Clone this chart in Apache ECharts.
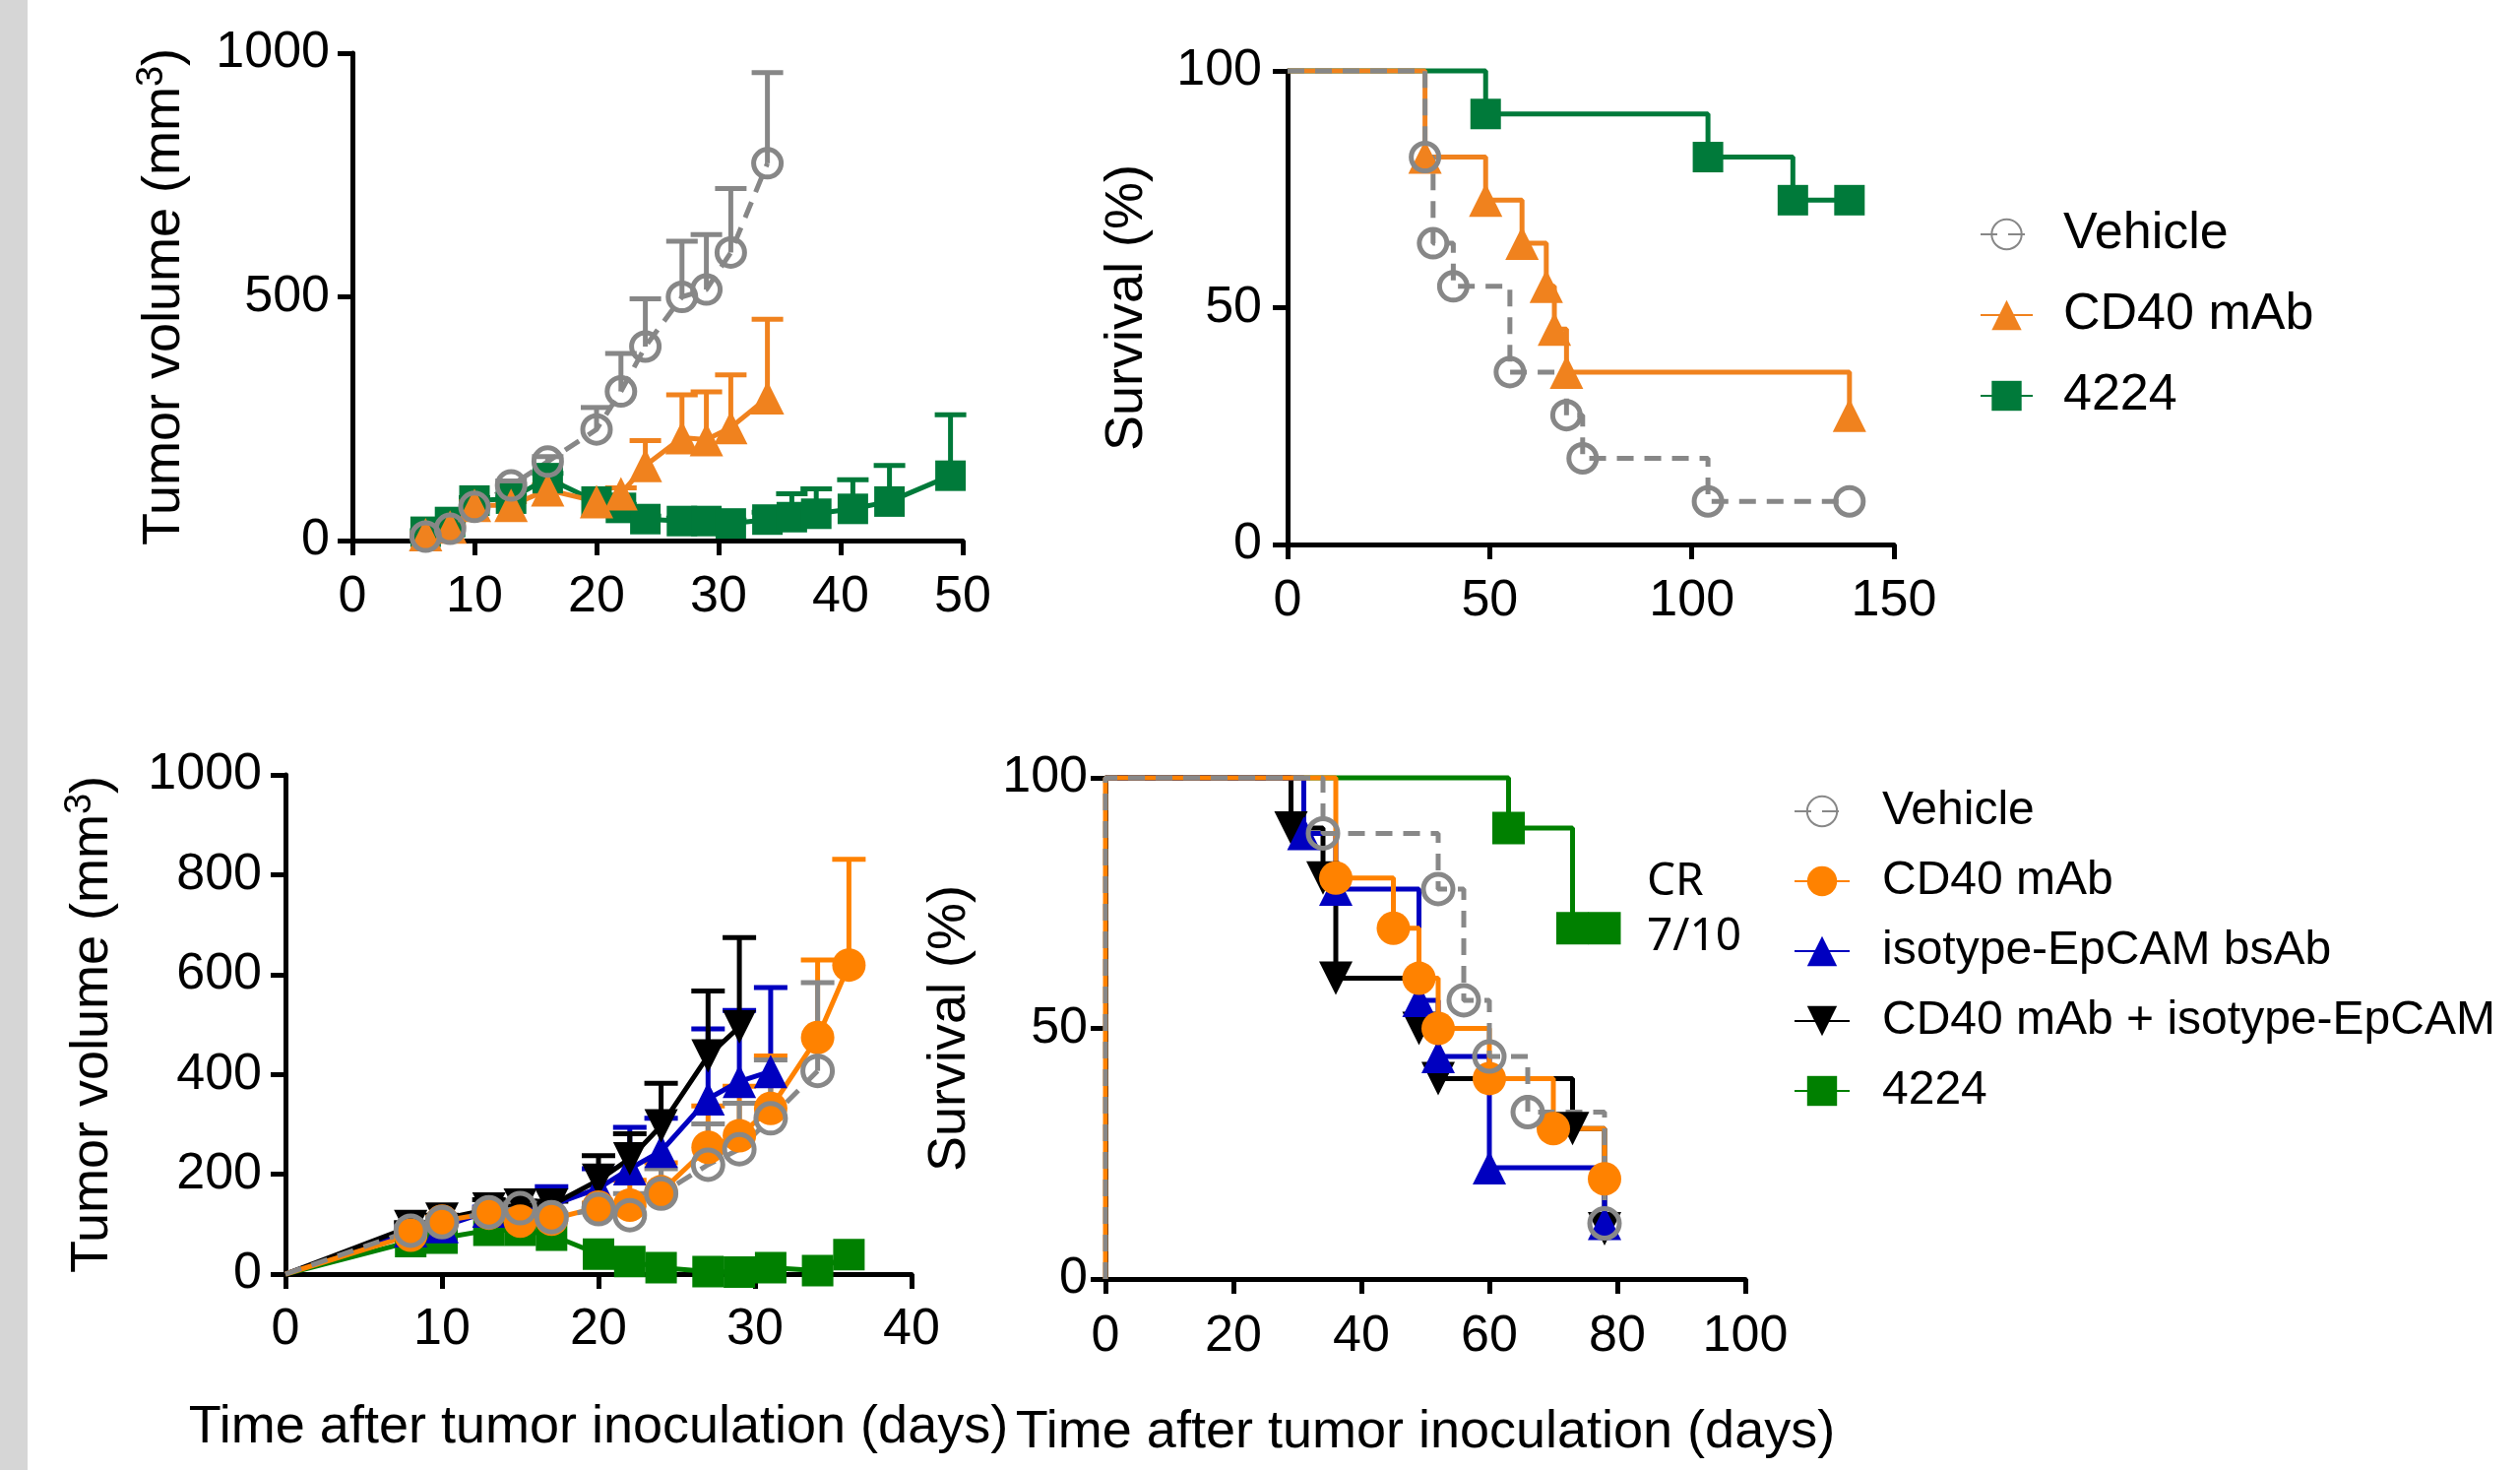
<!DOCTYPE html>
<html><head><meta charset="utf-8">
<script src="https://cdn.jsdelivr.net/npm/echarts@6/dist/echarts.min.js"></script>
<style>html,body{margin:0;padding:0;background:#fff}#c{width:2560px;height:1493px}</style>
</head><body><div id="c"></div>
<script>
// ---------------- DATA ----------------
// Top-left: tumor volume (mm3) vs days
const tlVehicleDays  = [6, 8, 10, 13, 16, 20, 22, 24, 27, 29, 31, 34];
const tlVehicleMean  = [8, 24, 69, 113, 162, 228, 306, 398, 500, 515, 591, 774];
const tlVehicleUpper = [12, 30, 76, 122, 172, 273, 384, 496, 614, 628, 722, 960];
const tlCD40Days  = [6, 8, 10, 13, 16, 20, 22, 24, 27, 29, 31, 34];
const tlCD40Mean  = [12, 28, 72, 72, 104, 80, 96, 154, 211, 207, 232, 293];
const tlCD40Upper = [14, 32, 80, 80, 114, 90, 108, 205, 299, 305, 340, 454];
const tl4224Days  = [6, 8, 10, 13, 16, 20, 22, 24, 27, 29, 31, 34, 36, 38, 41, 44, 49];
const tl4224Mean  = [18, 38, 82, 86, 128, 80, 67, 44, 40, 40, 35, 43, 48, 55, 65, 80, 133];
const tl4224Upper = [20, 42, 88, 92, 138, 88, 74, 50, 46, 46, 42, 58, 96, 106, 125, 154, 258];

// Top-right: survival (%)
const trVehicleDays = [0, 34, 36, 41, 55, 69, 73, 104, 139];
const trVehicleSurv = [100, 81.8, 63.6, 54.5, 36.4, 27.3, 18.2, 9.1, 9.1];
const trCD40Days = [0, 34, 49, 58, 64, 66, 69, 139];
const trCD40Surv = [100, 81.8, 72.7, 63.6, 54.5, 45.5, 36.4, 27.3];
const tr4224Days = [0, 49, 104, 125, 139];
const tr4224Surv = [100, 90.9, 81.8, 72.7, 72.7];

// Bottom-left: tumor volume (mm3) vs days
const blVehicleDays  = [0, 8, 10, 13, 15, 17, 20, 22, 24, 27, 29, 31, 34];
const blVehicleMean  = [0, 87, 104, 124, 132, 114, 130, 118, 161, 219, 250, 312, 407];
const blVehicleUpper = [0, 95, 112, 132, 142, 122, 140, 161, 211, 301, 342, 429, 584];
const blCD40Days  = [0, 8, 10, 13, 15, 17, 20, 22, 24, 27, 29, 31, 34, 36];
const blCD40Mean  = [0, 78, 106, 122, 106, 110, 134, 138, 165, 254, 277, 332, 474, 619];
const blCD40Upper = [0, 86, 114, 130, 114, 118, 142, 188, 223, 337, 376, 437, 629, 831];
const blIsoDays  = [0, 8, 10, 13, 15, 17, 20, 22, 24, 27, 29, 31];
const blIsoMean  = [0, 87, 95, 126, 130, 138, 172, 211, 246, 351, 386, 406];
const blIsoUpper = [0, 95, 103, 134, 138, 175, 211, 294, 312, 491, 528, 574];
const blComboDays  = [0, 8, 10, 13, 15, 17, 20, 22, 24, 27, 29];
const blComboMean  = [0, 95, 110, 130, 138, 138, 188, 231, 297, 437, 495];
const blComboUpper = [0, 103, 118, 149, 146, 146, 237, 281, 382, 567, 674];
const bl4224Days = [0, 8, 10, 13, 15, 17, 20, 22, 24, 27, 29, 31, 34, 36];
const bl4224Mean = [0, 65, 72, 88, 88, 78, 40, 25, 13, 5, 4, 13, 7, 39];

// Bottom-right: survival (%)
const brVehicleDays = [0, 0, 34, 52, 56, 60, 66, 78];
const brVehicleSurv = [0, 100, 88.9, 77.8, 55.6, 44.4, 33.3, 11.1];
const brCD40Days = [0, 0, 36, 45, 49, 52, 60, 70, 78];
const brCD40Surv = [0, 100, 80, 70, 60, 50, 40, 30, 20];
const brIsoDays = [0, 31, 36, 49, 52, 60, 78];
const brIsoSurv = [100, 88.9, 77.8, 55.6, 44.4, 22.2, 11.1];
const brComboDays = [0, 29, 34, 36, 49, 52, 73, 78];
const brComboSurv = [100, 90, 80, 60, 50, 40, 30, 10];
const br4224Days = [0, 63, 73, 78];
const br4224Surv = [100, 90, 70, 70];

// Labels
const topLegendNames = ['Vehicle', 'CD40 mAb', '4224'];
const bottomLegendNames = ['Vehicle', 'CD40 mAb', 'isotype-EpCAM bsAb', 'CD40 mAb + isotype-EpCAM', '4224'];
const volumeTitle = 'Tumor volume (mm{sup|3})';
const survivalTitle = 'Survival (%)';
const timeTitle = 'Time after tumor inoculation (days)';
const crLines = ['CR', '7/10'];

// ---------------- STYLE ----------------
const FONT = '"Liberation Sans", Arial, sans-serif';
const C = {
  tGray: '#878787', tOrange: '#F0821E', tGreen: '#007A3A',
  bGray: '#888888', bOrange: '#FF8200', bBlue: '#0000C0', bBlack: '#000000', bGreen: '#008000'
};
const LW = 5;

function pts(xs, ys, hideZero) {
  return xs.map((x, i) => {
    const item = { value: [x, ys[i]] };
    if (hideZero && x === 0) item.symbol = 'none';
    return item;
  });
}
function errData(xs, m, u) {
  const out = [];
  xs.forEach((x, i) => { if (u[i] > m[i]) out.push([x, m[i], u[i]]); });
  return out;
}
function errSeries(idx, xs, m, u, color, hw) {
  return {
    type: 'custom', name: 'err' + color + idx, xAxisIndex: idx, yAxisIndex: idx, z: 1, clip: false,
    silent: true, encode: { x: 0, y: [1, 2] },
    data: errData(xs, m, u),
    renderItem: function (params, api) {
      const x = api.value(0), mv = api.value(1), uv = api.value(2);
      const p0 = api.coord([x, mv]), p1 = api.coord([x, uv]);
      return { type: 'group', children: [
        { type: 'line', shape: { x1: p0[0], y1: p0[1], x2: p1[0], y2: p1[1] }, style: { stroke: color, lineWidth: LW } },
        { type: 'line', shape: { x1: p1[0] - hw, y1: p1[1], x2: p1[0] + hw, y2: p1[1] }, style: { stroke: color, lineWidth: LW } }
      ]};
    }
  };
}
function lineS(name, idx, data, color, symbol, size, extra) {
  const s = {
    type: 'line', name: name, xAxisIndex: idx, yAxisIndex: idx, data: data, z: 3,
    symbol: symbol, symbolSize: size, showAllSymbol: true, clip: false, animation: false,
    lineStyle: { color: color, width: LW },
    itemStyle: { color: color, opacity: 1 },
    emphasis: { disabled: true }
  };
  return Object.assign(s, extra || {});
}
function openCircle(color) {
  return { itemStyle: { color: 'rgba(255,255,255,0)', borderColor: color, borderWidth: 5, opacity: 1 } };
}
function dashed(color) {
  return { lineStyle: { color: color, width: LW, type: [17, 11] } };
}

const labelFmt = v => String(v);
function xAx(gi, max, interval, name, margin) {
  const a = {
    type: 'value', gridIndex: gi, min: 0, max: max, interval: interval,
    axisLine: { show: true, onZero: false, lineStyle: { color: '#000', width: 5 } },
    axisTick: { show: true, length: 15, lineStyle: { color: '#000', width: 5 } },
    axisLabel: { fontSize: 52, color: '#000', fontFamily: FONT, margin: margin, formatter: labelFmt },
    splitLine: { show: false }
  };
  if (name) {
    a.name = name; a.nameLocation = 'middle'; a.nameGap = 129;
    a.nameTextStyle = { fontSize: 54, color: '#000', fontFamily: FONT, verticalAlign: 'top' };
  }
  return a;
}
function yAx(gi, max, interval, name, gap, margin) {
  return {
    type: 'value', gridIndex: gi, min: 0, max: max, interval: interval,
    axisLine: { show: true, onZero: false, lineStyle: { color: '#000', width: 5 } },
    axisTick: { show: true, length: 15, lineStyle: { color: '#000', width: 5 } },
    axisLabel: { fontSize: 52, color: '#000', fontFamily: FONT, margin: margin, formatter: labelFmt },
    splitLine: { show: false },
    name: name, nameLocation: 'middle', nameGap: gap,
    nameTextStyle: {
      fontSize: 54, color: '#000', fontFamily: FONT, lineHeight: 62,
      rich: { sup: { fontSize: 38, fontFamily: FONT, color: '#000', verticalAlign: 'top', lineHeight: 38 } }
    }
  };
}

const chart = echarts.init(document.getElementById('c'), null, { renderer: 'canvas' });

const series = [
  // top-left
  errSeries(0, tl4224Days, tl4224Mean, tl4224Upper, C.tGreen, 16),
  errSeries(0, tlCD40Days, tlCD40Mean, tlCD40Upper, C.tOrange, 16),
  errSeries(0, tlVehicleDays, tlVehicleMean, tlVehicleUpper, C.tGray, 16),
  lineS('t:4224', 0, pts(tl4224Days, tl4224Mean), C.tGreen, 'rect', 31),
  lineS('t:CD40 mAb', 0, pts(tlCD40Days, tlCD40Mean), C.tOrange, 'triangle', 34),
  lineS('t:Vehicle', 0, pts(tlVehicleDays, tlVehicleMean), C.tGray, 'circle', 28,
        Object.assign(openCircle(C.tGray), dashed(C.tGray))),
  // top-right
  lineS('t:4224', 1, pts(tr4224Days, tr4224Surv, true), C.tGreen, 'rect', 31, { step: 'end' }),
  lineS('t:CD40 mAb', 1, pts(trCD40Days, trCD40Surv, true), C.tOrange, 'triangle', 34, { step: 'end' }),
  lineS('t:Vehicle', 1, pts(trVehicleDays, trVehicleSurv, true), C.tGray, 'circle', 28,
        Object.assign({ step: 'end' }, openCircle(C.tGray), dashed(C.tGray))),
  // bottom-left
  errSeries(2, blIsoDays, blIsoMean, blIsoUpper, C.bBlue, 17),
  errSeries(2, blComboDays, blComboMean, blComboUpper, C.bBlack, 17),
  errSeries(2, blCD40Days, blCD40Mean, blCD40Upper, C.bOrange, 17),
  errSeries(2, blVehicleDays, blVehicleMean, blVehicleUpper, C.bGray, 17),
  lineS('b:4224', 2, pts(bl4224Days, bl4224Mean, true), C.bGreen, 'rect', 32),
  lineS('b:isotype-EpCAM bsAb', 2, pts(blIsoDays, blIsoMean, true), C.bBlue, 'triangle', 34),
  lineS('b:CD40 mAb + isotype-EpCAM', 2, pts(blComboDays, blComboMean, true), C.bBlack, 'triangle', 34, { symbolRotate: 180 }),
  lineS('b:CD40 mAb', 2, pts(blCD40Days, blCD40Mean, true), C.bOrange, 'circle', 34),
  lineS('b:Vehicle', 2, pts(blVehicleDays, blVehicleMean, true), C.bGray, 'circle', 30,
        Object.assign(openCircle(C.bGray), dashed(C.bGray))),
  // bottom-right
  lineS('b:4224', 3, pts(br4224Days, br4224Surv, true), C.bGreen, 'rect', 33, { step: 'end' }),
  lineS('b:CD40 mAb + isotype-EpCAM', 3, pts(brComboDays, brComboSurv, true), C.bBlack, 'triangle', 34, { step: 'end', symbolRotate: 180 }),
  lineS('b:isotype-EpCAM bsAb', 3, pts(brIsoDays, brIsoSurv, true), C.bBlue, 'triangle', 34, { step: 'end' }),
  lineS('b:CD40 mAb', 3, pts(brCD40Days, brCD40Surv, true), C.bOrange, 'circle', 34, { step: 'end' }),
  lineS('b:Vehicle', 3, pts(brVehicleDays, brVehicleSurv, true), C.bGray, 'circle', 30,
        Object.assign({ step: 'end' }, openCircle(C.bGray), dashed(C.bGray)))
];

const option = {
  animation: false,
  backgroundColor: '#ffffff',
  textStyle: { fontFamily: FONT },
  grid: [
    { left: 358, top: 54, width: 620, height: 495 },
    { left: 1308, top: 72, width: 616, height: 481 },
    { left: 290, top: 787, width: 636, height: 507 },
    { left: 1123, top: 790, width: 650, height: 509 }
  ],
  xAxis: [
    xAx(0, 50, 10, null, 32), xAx(1, 150, 50, null, 32),
    xAx(2, 40, 10, timeTitle, 31), xAx(3, 100, 20, timeTitle, 33)
  ],
  yAxis: [
    yAx(0, 1000, 500, volumeTitle, 160, 23),
    yAx(1, 100, 50, survivalTitle, 132, 26),
    yAx(2, 1000, 200, volumeTitle, 165, 24),
    yAx(3, 100, 50, survivalTitle, 127, 18)
  ],
  legend: [
    {
      orient: 'vertical', left: 2011, top: 212, padding: 0, itemGap: 30,
      itemWidth: 53, itemHeight: 38, selectedMode: false,
      data: topLegendNames.map(n => 't:' + n),
      formatter: n => n.slice(2),
      textStyle: { fontSize: 52, lineHeight: 52, color: '#000', fontFamily: FONT, padding: [0, 0, 0, 26] }
    },
    {
      orient: 'vertical', left: 1822, top: 800, padding: 0, itemGap: 23,
      itemWidth: 56, itemHeight: 38, selectedMode: false,
      data: bottomLegendNames.map(n => 'b:' + n),
      formatter: n => n.slice(2),
      textStyle: { fontSize: 48, lineHeight: 48, color: '#000', fontFamily: FONT, padding: [0, 0, 0, 28] }
    }
  ],
  graphic: [
    { type: 'rect', left: 0, top: 0, shape: { width: 28, height: 1493 }, style: { fill: '#d6d6d6' }, silent: true },
    { type: 'text', left: 1673, top: 868, style: { text: crLines.join('\n'), font: '46px "Noto Sans", sans-serif', fill: '#000', lineHeight: 56 } }
  ],
  series: series
};
chart.setOption(option);
</script></body></html>
